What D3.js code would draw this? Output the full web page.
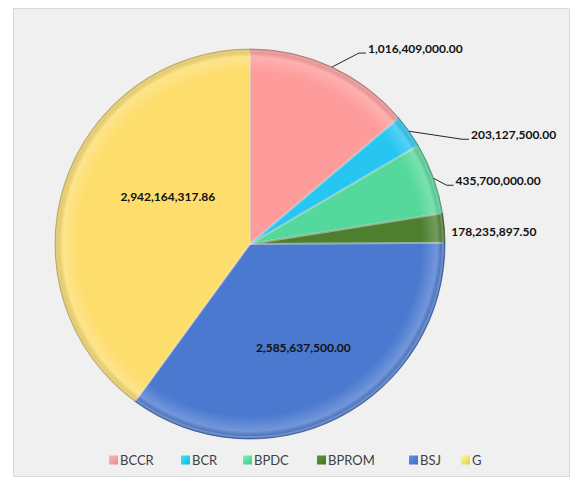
<!DOCTYPE html>
<html>
<head>
<meta charset="utf-8">
<script src="https://cdn.jsdelivr.net/npm/d3@7"></script>
<style>
  body { margin: 0; background: #ffffff; }
  svg { display: block; }
</style>
</head>
<body>
<div id="chart"></div>
<script>
// categories and values (clockwise from 12 o'clock)
var categories = ["BCCR", "BCR", "BPDC", "BPROM", "BSJ", "G"];
var values = [1016409000.00, 203127500.00, 435700000.00, 178235897.50, 2585637500.00, 2942164317.86];
var colors = ["#fe9b9b", "#27c5f2", "#55d89b", "#4e7f2f", "#4a79cf", "#fddd6c"];

// label placement (outside labels get a leader line)
var labelOutside = [true, true, true, true, false, false];
var labelOffset = [[36, -18], [62, 4], [22, 3], [7, 4], [0, 0], [29, -11]];

var width = 576, height = 479;
var cx = 250, cy = 244, radius = 195;

var svg = d3.select("#chart").append("svg")
    .attr("width", width)
    .attr("height", height);

// grey chart area
svg.append("rect")
    .attr("x", 13.5).attr("y", 8.5)
    .attr("width", 556).attr("height", 468)
    .attr("fill", "#f0f0f0")
    .attr("stroke", "#d9d9d9");

var defs = svg.append("defs");

// rim shading for the bevel look
var rim = defs.append("radialGradient").attr("id", "rim")
    .attr("cx", "50%").attr("cy", "50%").attr("r", "50%");
rim.append("stop").attr("offset", "0%").attr("stop-color", "#fff").attr("stop-opacity", 0);
rim.append("stop").attr("offset", "88%").attr("stop-color", "#fff").attr("stop-opacity", 0);
rim.append("stop").attr("offset", "96%").attr("stop-color", "#fff").attr("stop-opacity", 0.22);
rim.append("stop").attr("offset", "100%").attr("stop-color", "#000").attr("stop-opacity", 0.12);

colors.forEach(function(c, i) {
    var g = defs.append("linearGradient").attr("id", "leg" + i)
        .attr("x1", 0).attr("y1", 0).attr("x2", 1).attr("y2", 1);
    g.append("stop").attr("offset", "0%").attr("stop-color", d3.color(c).brighter(0.5));
    g.append("stop").attr("offset", "100%").attr("stop-color", d3.color(c).darker(0.3));
});

var data = categories.map(function(name, i) {
    return {name: name, value: values[i], color: colors[i], i: i};
});

var pie = d3.pie()
    .sort(null)
    .value(function(d) { return d.value; });

var arc = d3.arc().innerRadius(0).outerRadius(radius);
var edgeArc = d3.arc().innerRadius(radius).outerRadius(radius);

var arcs = pie(data);

var g = svg.append("g")
    .attr("transform", "translate(" + cx + "," + cy + ")");

g.selectAll("path.slice")
    .data(arcs)
    .enter().append("path")
    .attr("class", "slice")
    .attr("d", arc)
    .attr("fill", function(d) { return d.data.color; })
    .attr("stroke", function(d) { return d3.color(d.data.color).darker(0.9); })
    .attr("stroke-width", 0.7)
    .attr("stroke-linejoin", "round");

// light inner edge along each slice
g.selectAll("path.bevel")
    .data(arcs)
    .enter().append("path")
    .attr("class", "bevel")
    .attr("d", d3.arc().innerRadius(0).outerRadius(radius - 2))
    .attr("fill", "none")
    .attr("stroke", "#fff")
    .attr("stroke-opacity", 0.25)
    .attr("stroke-width", 2);

g.append("circle")
    .attr("r", radius)
    .attr("fill", "url(#rim)")
    .attr("pointer-events", "none");

var fmt = d3.format(",.2f");

// labels
arcs.forEach(function(d) {
    var i = d.data.i;
    var off = labelOffset[i];
    var text;
    if (labelOutside[i]) {
        var p = edgeArc.centroid(d);
        var tx = p[0] + off[0], ty = p[1] + off[1];
        if (i < 3) {
            g.append("path")
                .attr("d", "M" + p[0] + "," + p[1] + "L" + (tx - 9) + "," + (ty + 4) + "L" + (tx - 2) + "," + (ty + 4))
                .attr("fill", "none")
                .attr("stroke", "#262626")
                .attr("stroke-width", 1);
        }
        text = g.append("text")
            .attr("x", tx).attr("y", ty)
            .attr("text-anchor", "start");
    } else {
        var c = d3.arc().innerRadius(0).outerRadius(radius * 1.2).centroid(d);
        text = g.append("text")
            .attr("x", c[0] + off[0]).attr("y", c[1] + off[1])
            .attr("text-anchor", "middle");
    }
    text.attr("dy", "0.35em")
        .attr("font-family", "Lato, 'Open Sans', sans-serif")
        .attr("font-weight", "bold")
        .attr("font-size", "12px")
        .attr("fill", "#111")
        .text(fmt(d.data.value));
});

// legend
var legendX = [109, 181, 243, 317, 409, 461];
var legend = svg.append("g").attr("transform", "translate(0,460)");
var item = legend.selectAll("g.item")
    .data(data)
    .enter().append("g")
    .attr("class", "item")
    .attr("transform", function(d) { return "translate(" + legendX[d.i] + ",0)"; });

item.append("rect")
    .attr("x", 0).attr("y", -4.5)
    .attr("width", 9).attr("height", 9)
    .attr("fill", function(d) { return "url(#leg" + d.i + ")"; });

item.append("text")
    .attr("x", 11).attr("y", 0)
    .attr("dy", "0.35em")
    .attr("font-family", "Lato, 'Open Sans', sans-serif")
    .attr("font-size", "13px")
    .attr("fill", "#404040")
    .text(function(d) { return d.name; });
</script>
</body>
</html>
